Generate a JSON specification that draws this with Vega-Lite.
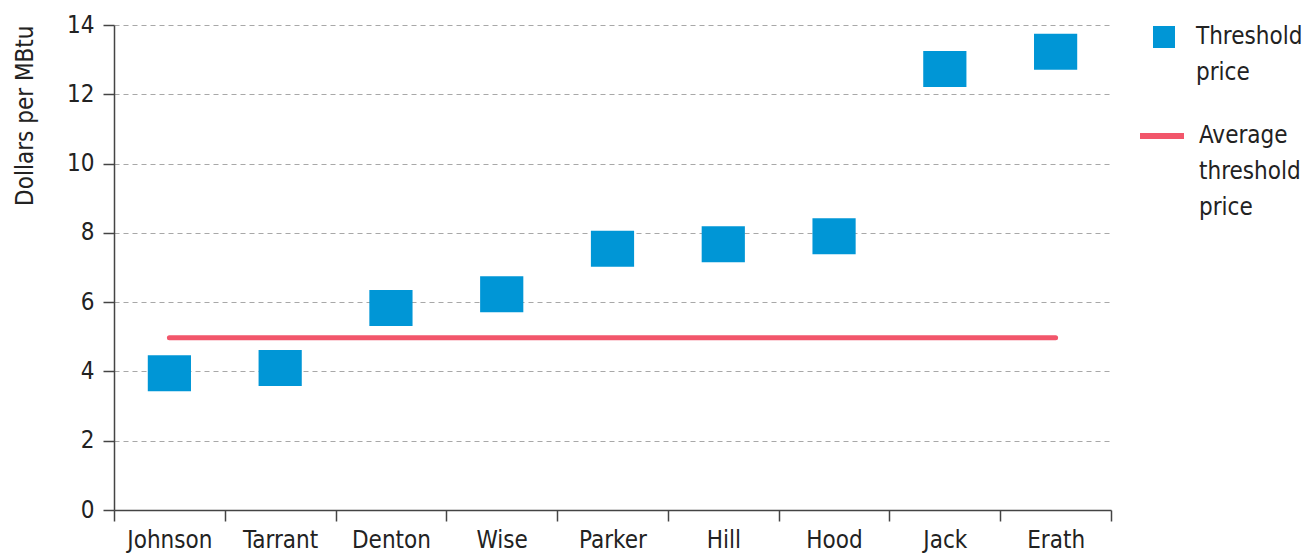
{
  "$schema": "https://vega.github.io/schema/vega-lite/v6.json",
  "width": 997,
  "height": 485,
  "autosize": {"type": "none"},
  "padding": {"left": 114, "top": 25, "right": 193, "bottom": 43},
  "background": "white",
  "config": {
    "font": "DejaVu Sans Condensed, Liberation Sans, sans-serif",
    "view": {"stroke": null},
    "axis": {"labelFont": "DejaVu Sans Condensed, Liberation Sans, sans-serif", "titleFont": "DejaVu Sans Condensed, Liberation Sans, sans-serif", "labelColor": "#222", "titleColor": "#222", "domainColor": "#444", "tickColor": "#444", "domainWidth": 1.5, "tickWidth": 1.5},
    "legend": {"labelFont": "DejaVu Sans Condensed, Liberation Sans, sans-serif", "labelFontSize": 24, "labelColor": "#222", "labelLimit": 200}
  },
  "data": {
    "values": [
      {"county": "Johnson", "price": 3.95, "average": 4.97},
      {"county": "Tarrant", "price": 4.1, "average": 4.97},
      {"county": "Denton", "price": 5.83, "average": 4.97},
      {"county": "Wise", "price": 6.23, "average": 4.97},
      {"county": "Parker", "price": 7.54, "average": 4.97},
      {"county": "Hill", "price": 7.67, "average": 4.97},
      {"county": "Hood", "price": 7.9, "average": 4.97},
      {"county": "Jack", "price": 12.73, "average": 4.97},
      {"county": "Erath", "price": 13.23, "average": 4.97}
    ]
  },
  "encoding": {
    "x": {
      "field": "county", "type": "nominal", "sort": null,
      "scale": {"type": "band", "paddingInner": 0, "paddingOuter": 0},
      "axis": {"title": null, "labelAngle": 0, "labelFontSize": 24, "tickBand": "extent", "tickSize": 11, "labelPadding": 7, "labelBaseline": "top", "grid": false}
    }
  },
  "resolve": {"scale": {"color": "independent", "stroke": "independent"}},
  "layer": [
    {
      "mark": {"type": "line", "strokeWidth": 5, "strokeCap": "round"},
      "encoding": {
        "y": {"field": "average", "type": "quantitative"},
        "stroke": {
          "datum": "Average threshold price",
          "scale": {"domain": ["Average threshold price"], "range": ["#f2566b"]},
          "legend": {
            "title": null, "orient": "none", "legendX": 1023, "legendY": 86,
            "symbolType": "stroke", "symbolSize": 1936, "symbolStrokeWidth": 6,
            "labelOffset": 12, "labelBaseline": "top",
            "labelExpr": "['Average', 'threshold', 'price']",
            "encode": {"labels": {"update": {"lineHeight": {"value": 36}, "dy": {"value": -12}}}}
          }
        }
      }
    },
    {
      "mark": {"type": "point", "shape": "M-1.2,-1L1.2,-1L1.2,1L-1.2,1Z", "size": 1296, "filled": true, "opacity": 1},
      "encoding": {
        "y": {
          "field": "price", "type": "quantitative",
          "scale": {"domain": [0, 14], "nice": false},
          "axis": {"title": "Dollars per MBtu", "titleFontSize": 24, "titleFontWeight": "normal", "titleAngle": -90, "titleX": -89, "titleY": 0, "titleAlign": "right", "titleBaseline": "middle", "values": [0, 2, 4, 6, 8, 10, 12, 14], "labelFontSize": 24, "tickSize": 11, "labelPadding": 9, "grid": true, "gridColor": "#a8a8a8", "gridDash": [5, 4], "gridWidth": 1.2}
        },
        "color": {
          "datum": "Threshold price",
          "scale": {"domain": ["Threshold price"], "range": ["#0096d6"]},
          "legend": {
            "title": null, "orient": "none", "legendX": 1038, "legendY": 0,
            "symbolType": "square", "symbolSize": 484, "symbolOpacity": 1,
            "labelOffset": 20, "labelBaseline": "top",
            "labelExpr": "['Threshold', 'price']",
            "encode": {"labels": {"update": {"lineHeight": {"value": 36}, "dy": {"value": -12}}}}
          }
        }
      }
    }
  ]
}
